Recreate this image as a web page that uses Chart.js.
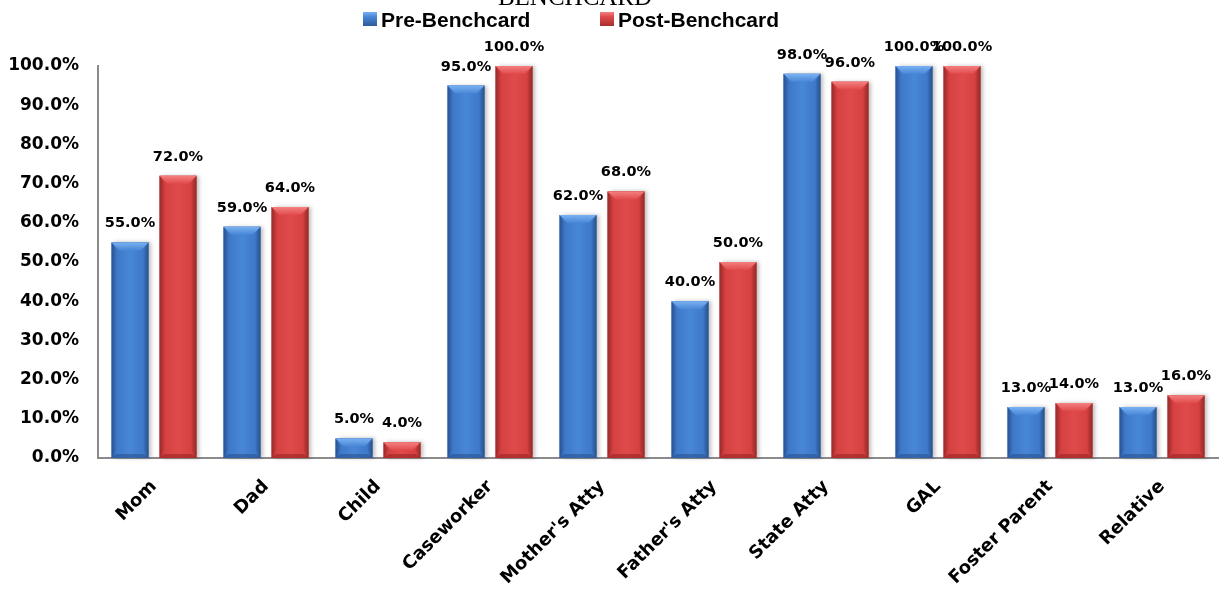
<!DOCTYPE html>
<html>
<head>
<meta charset="utf-8">
<script src="https://cdn.jsdelivr.net/npm/chart.js@4.4.1/dist/chart.umd.min.js"></script>
<style>
  html, body { margin: 0; padding: 0; background: #ffffff; }
  #wrap { width: 1225px; height: 592px; }
</style>
</head>
<body>
<div id="wrap"><canvas id="c" width="1225" height="592"></canvas></div>
<script>
// Participants asked about, and share (%) before and after the benchcard
const categories = ["Mom", "Dad", "Child", "Caseworker", "Mother's Atty", "Father's Atty", "State Atty", "GAL", "Foster Parent", "Relative"];
const preBenchcard = [55, 59, 5, 95, 62, 40, 98, 100, 13, 13];
const postBenchcard = [72, 64, 4, 100, 68, 50, 96, 100, 14, 16];
const seriesNames = ["Pre-Benchcard", "Post-Benchcard"];
const titleText = "BENCHCARD";
const yTicks = [0, 10, 20, 30, 40, 50, 60, 70, 80, 90, 100];

const palettes = [
  { body: "#3e78c8", edge: "#2c5a9c", light: "#4886d6", top: "#7ab2f2", bottom: "#2c5a9c" },
  { body: "#d43f3f", edge: "#a82e2e", light: "#e04a4a", top: "#f48080", bottom: "#a52a2a" }
];

const fmt = v => v.toFixed(1) + "%";

// Bevelled, shaded bar faces drawn over each bar element
const bevelBars = {
  id: "bevelBars",
  afterDatasetsDraw(chart) {
    const ctx = chart.ctx;
    chart.data.datasets.forEach((ds, i) => {
      const meta = chart.getDatasetMeta(i);
      const p = palettes[i];
      meta.data.forEach(bar => {
        const { x, y, base, width } = bar.getProps(["x", "y", "base", "width"], true);
        const l = x - width / 2, r = x + width / 2, t = y, b = base, h = b - t;
        if (h <= 0) return;
        ctx.save();
        // soft shadow
        ctx.shadowColor = "rgba(0,0,0,0.25)";
        ctx.shadowBlur = 4;
        ctx.shadowOffsetX = 3;
        ctx.shadowOffsetY = 0;
        const g = ctx.createLinearGradient(l, 0, r, 0);
        g.addColorStop(0, p.edge);
        g.addColorStop(0.12, p.body);
        g.addColorStop(0.5, p.light);
        g.addColorStop(0.88, p.body);
        g.addColorStop(1, p.edge);
        ctx.fillStyle = g;
        ctx.fillRect(l, t, width, h);
        ctx.restore();

        ctx.save();
        const bv = Math.min(8, h / 2);
        // top bevel
        const tg = ctx.createLinearGradient(0, t, 0, t + bv);
        tg.addColorStop(0, p.top);
        tg.addColorStop(1, p.light);
        ctx.fillStyle = tg;
        ctx.beginPath();
        ctx.moveTo(l, t); ctx.lineTo(r, t); ctx.lineTo(r - bv, t + bv); ctx.lineTo(l + bv, t + bv);
        ctx.closePath(); ctx.fill();
        // side bevels
        ctx.fillStyle = "rgba(0,0,0,0.08)";
        ctx.beginPath();
        ctx.moveTo(l, t); ctx.lineTo(l + bv * 0.6, t + bv); ctx.lineTo(l + bv * 0.6, b - bv); ctx.lineTo(l, b);
        ctx.closePath(); ctx.fill();
        ctx.beginPath();
        ctx.moveTo(r, t); ctx.lineTo(r - bv * 0.6, t + bv); ctx.lineTo(r - bv * 0.6, b - bv); ctx.lineTo(r, b);
        ctx.closePath(); ctx.fill();
        // bottom bevel
        ctx.fillStyle = p.bottom;
        ctx.globalAlpha = 0.7;
        const bb = Math.min(4, h / 3);
        ctx.beginPath();
        ctx.moveTo(l, b); ctx.lineTo(r, b); ctx.lineTo(r - bv * 0.6, b - bb); ctx.lineTo(l + bv * 0.6, b - bb);
        ctx.closePath(); ctx.fill();
        ctx.restore();
      });
    });
  }
};

// Value labels above each bar
const valueLabels = {
  id: "valueLabels",
  afterDatasetsDraw(chart) {
    const ctx = chart.ctx;
    ctx.save();
    ctx.font = "bold 14.5px 'DejaVu Sans'";
    ctx.fillStyle = "#000000";
    ctx.textAlign = "center";
    ctx.textBaseline = "alphabetic";
    chart.data.datasets.forEach((ds, i) => {
      const meta = chart.getDatasetMeta(i);
      meta.data.forEach((bar, j) => {
        ctx.fillText(fmt(ds.data[j]), bar.x, bar.y - 15);
      });
    });
    ctx.restore();
  }
};

// Title line and legend across the top
const header = {
  id: "header",
  afterDraw(chart) {
    const ctx = chart.ctx;
    ctx.save();
    ctx.fillStyle = "#000000";
    ctx.font = "25px 'Liberation Serif'";
    ctx.textAlign = "center";
    ctx.textBaseline = "alphabetic";
    ctx.fillText(titleText, 575, 5);

    const itemX = [363, 600];
    ctx.font = "bold 21px 'Liberation Sans'";
    ctx.textAlign = "left";
    chart.data.datasets.forEach((ds, i) => {
      const p = palettes[i];
      const bx = itemX[i], by = 12, s = 14;
      const g = ctx.createLinearGradient(0, by, 0, by + s);
      g.addColorStop(0, p.top);
      g.addColorStop(0.35, p.light);
      g.addColorStop(1, p.edge);
      ctx.fillStyle = g;
      ctx.fillRect(bx, by, s, s);
      ctx.fillStyle = "#000000";
      ctx.fillText(ds.label, bx + s + 4, 27);
    });
    ctx.restore();
  }
};

new Chart(document.getElementById("c"), {
  type: "bar",
  data: {
    labels: categories,
    datasets: [
      { label: seriesNames[0], data: preBenchcard, backgroundColor: palettes[0].body },
      { label: seriesNames[1], data: postBenchcard, backgroundColor: palettes[1].body }
    ]
  },
  options: {
    responsive: false,
    animation: false,
    devicePixelRatio: 1,
    datasets: { bar: { categoryPercentage: 0.857, barPercentage: 0.77 } },
    layout: { padding: { top: 66, right: 7, left: 0, bottom: 0 } },
    plugins: {
      legend: { display: false },
      title: { display: false },
      tooltip: { enabled: false }
    },
    scales: {
      x: {
        grid: { display: false, drawTicks: false },
        border: { display: true, color: "#8a8a8a", width: 2 },
        ticks: {
          color: "#000000",
          font: { family: "DejaVu Sans", weight: "bold", size: 18 },
          minRotation: 45,
          maxRotation: 45,
          padding: 18,
          autoSkip: false
        },
        afterFit(scale) { scale.height = 134; }
      },
      y: {
        min: 0,
        max: 100,
        grid: { display: false, drawTicks: false },
        border: { display: true, color: "#8a8a8a", width: 2 },
        afterBuildTicks(scale) { scale.ticks = yTicks.map(v => ({ value: v })); },
        ticks: {
          color: "#000000",
          font: { family: "DejaVu Sans", weight: "bold", size: 17 },
          padding: 19,
          callback: v => fmt(v)
        },
        afterFit(scale) { scale.width = 98; }
      }
    }
  },
  plugins: [bevelBars, valueLabels, header]
});
</script>
</body>
</html>
